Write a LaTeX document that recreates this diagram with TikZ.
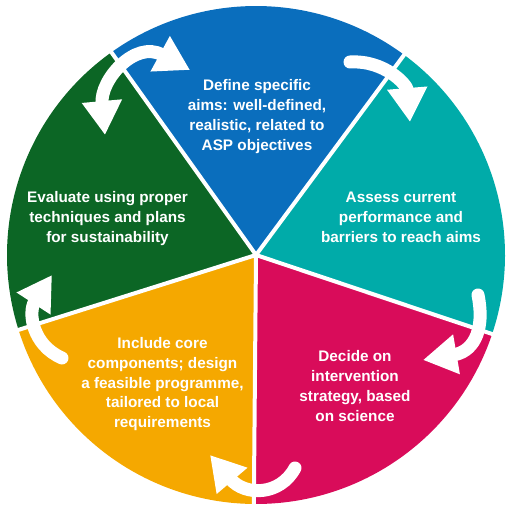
\documentclass[tikz,border=0pt]{standalone}
\usepackage{fontspec}
\setmainfont{Liberation Sans}
\usetikzlibrary{arrows.meta}
\definecolor{cblue}{HTML}{0A6EBD}
\definecolor{cteal}{HTML}{00ABA9}
\definecolor{cred}{HTML}{D90C5A}
\definecolor{corange}{HTML}{F5A800}
\definecolor{cgreen}{HTML}{0C6625}
\tikzset{
  divider/.style={white, line width=4},
  cyclearrow/.style={white, line width=13, line cap=round, -{Triangle[width=38pt,length=34pt]}},
  dblarrow/.style={white, line width=13, {Triangle[width=38pt,length=34pt]}-{Triangle[width=38pt,length=34pt]}},
  label/.style={anchor=north, inner sep=0, align=center, text=white,
    font=\fontsize{15.3}{19.8}\selectfont\bfseries}
}
\begin{document}
\begin{tikzpicture}[x=1pt, y=-1pt]
\useasboundingbox (0,0) rectangle (512,514);
\coordinate (c) at (256,255);
\begin{scope}[shift={(256,255)}]
  \fill[cblue]   (0,0) -- (-53.5:249) arc[start angle=-53.5, end angle=-125.5, radius=249] -- cycle;
  \fill[cteal]   (0,0) -- (18.5:249) arc[start angle=18.5, end angle=-53.5, radius=249] -- cycle;
  \fill[cred]    (0,0) -- (90.5:249) arc[start angle=90.5, end angle=18.5, radius=249] -- cycle;
  \fill[corange] (0,0) -- (162.5:249) arc[start angle=162.5, end angle=90.5, radius=249] -- cycle;
  \fill[cgreen]  (0,0) -- (234.5:249) arc[start angle=234.5, end angle=162.5, radius=249] -- cycle;
  \coordinate (d1) at (-53.5:252);
  \coordinate (d2) at (-125.5:252);
  \coordinate (d3) at (162.5:252);
  \coordinate (d4) at (90.5:252);
  \coordinate (d5) at (18.5:252);
\end{scope}
\foreach \d in {d1,d2,d3,d4,d5} \draw[divider] (c) -- (\d);

% arrows
\coordinate (a1s) at (105,135);
\coordinate (a1e) at (190,70);
\draw[dblarrow] (a1s) .. controls (100,80) and (135,40) .. (a1e);
\coordinate (a2s) at (350,62);
\coordinate (a2e) at (410,122);
\draw[cyclearrow] (a2s) .. controls (385,60) and (407,85) .. (a2e);
\coordinate (a3s) at (478,295);
\coordinate (a3e) at (423,360);
\draw[cyclearrow] (a3s) .. controls (486,335) and (470,352) .. (a3e);
\coordinate (a4s) at (295,468);
\coordinate (a4e) at (210,455);
\draw[cyclearrow] (a4s) .. controls (280,496) and (245,496) .. (a4e);
\coordinate (a5s) at (62,358);
\coordinate (a5e) at (52,275);
\draw[cyclearrow] (a5s) .. controls (32,345) and (28,312) .. (a5e);

% texts
\node[label] (tblue) at (257,79.7) {Define specific\\aims: well-defined,\\realistic, related to\\ASP objectives};
\node[label] (tteal) at (401,191.7) {Assess current\\performance and\\barriers to reach aims};
\node[label] (tred) at (355,350.7) {Decide on\\intervention\\strategy, based\\on science};
\node[label] (torange) at (162.5,337.3) {Include core\\components; design\\a feasible programme,\\tailored to local\\requirements};
\node[label] (tgreen) at (107.5,191.7) {Evaluate using proper\\techniques and plans\\for sustainability};
\end{tikzpicture}
\end{document}
